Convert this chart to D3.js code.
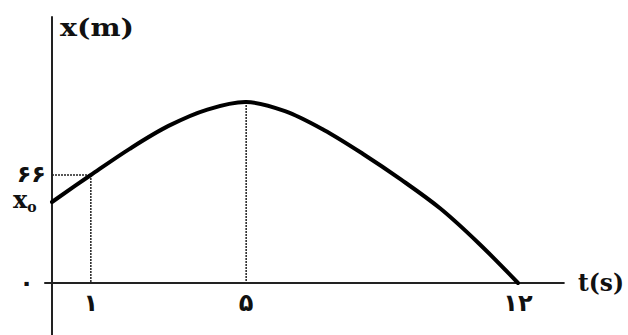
<!DOCTYPE html>
<html>
<head>
<meta charset="utf-8">
<script src="https://cdn.jsdelivr.net/npm/d3@7"></script>
<style>
  body { margin: 0; background: #fff; }
  svg { display: block; }
  .lbl { font-family: "DejaVu Serif", "Liberation Serif", serif; font-weight: bold; fill: #111; }
  .num { font-family: "DejaVu Sans", sans-serif; font-weight: bold; fill: #111; }
</style>
</head>
<body>
<div id="chart"></div>
<script>
// position-time curve
const times = [0, 1, 2, 3, 4, 5, 6, 7, 8, 9, 10, 11, 12];
const positions = [49.5, 66, 82, 96, 106, 110.6, 105, 93.5, 79, 63, 45.5, 24, 0];

// tick labels (Persian digits)
const tTicks = [1, 5, 12];
const tTickLabels = ["۱", "۵", "۱۲"];
const xTickValue = 66;
const xTickLabel = "۶۶";

// axis extents in data units
const tAxisEnd = 13.2;
const xAxisTop = 163;
const xAxisBottom = -32;

const width = 628, height = 335;

const svg = d3.select("#chart").append("svg")
    .attr("width", width)
    .attr("height", height);

const tScale = d3.scaleLinear().domain([0, 12]).range([52, 518]);
const xScale = d3.scaleLinear().domain([0, xTickValue]).range([283, 175]);

// axes
svg.append("line")
    .attr("x1", tScale(0)).attr("x2", tScale(0))
    .attr("y1", xScale(xAxisTop)).attr("y2", xScale(xAxisBottom))
    .attr("stroke", "#222").attr("stroke-width", 2);

svg.append("line")
    .attr("x1", tScale(-0.2)).attr("x2", tScale(tAxisEnd))
    .attr("y1", xScale(0)).attr("y2", xScale(0))
    .attr("stroke", "#222").attr("stroke-width", 2);

// guide lines
const peakIdx = positions.indexOf(d3.max(positions));
const guides = [
    { x1: tScale(0), y1: xScale(positions[1]), x2: tScale(times[1]), y2: xScale(positions[1]) },
    { x1: tScale(times[1]), y1: xScale(positions[1]), x2: tScale(times[1]), y2: xScale(0) },
    { x1: tScale(times[peakIdx]), y1: xScale(positions[peakIdx]), x2: tScale(times[peakIdx]), y2: xScale(0) }
];
svg.selectAll(".guide").data(guides).enter().append("line")
    .attr("class", "guide")
    .attr("x1", d => d.x1).attr("y1", d => d.y1)
    .attr("x2", d => d.x2).attr("y2", d => d.y2)
    .attr("stroke", "#222")
    .attr("stroke-width", 1.5)
    .attr("stroke-dasharray", "2,1");

// curve
const line = d3.line()
    .x((d, i) => tScale(times[i]))
    .y(d => xScale(d))
    .curve(d3.curveCatmullRom);

svg.append("path")
    .datum(positions)
    .attr("d", line)
    .attr("fill", "none")
    .attr("stroke", "#000")
    .attr("stroke-width", 4)
    .attr("stroke-linecap", "round");

// axis titles
svg.append("text")
    .attr("class", "lbl")
    .attr("x", 60).attr("y", 36)
    .attr("font-size", 24)
    .attr("textLength", 74)
    .attr("lengthAdjust", "spacingAndGlyphs")
    .text("x(m)");

svg.append("text")
    .attr("class", "lbl")
    .attr("x", 578).attr("y", xScale(0) + 8)
    .attr("font-size", 24)
    .attr("textLength", 46)
    .attr("lengthAdjust", "spacingAndGlyphs")
    .text("t(s)");

// t tick labels
svg.selectAll(".ttick").data(tTicks).enter().append("text")
    .attr("class", "num")
    .attr("x", d => tScale(d))
    .attr("y", xScale(0) + 28)
    .attr("text-anchor", "middle")
    .attr("font-size", 24)
    .text((d, i) => tTickLabels[i]);

// x tick labels
svg.append("text")
    .attr("class", "num")
    .attr("x", 46).attr("y", xScale(xTickValue) + 7)
    .attr("text-anchor", "end")
    .attr("font-size", 24)
    .text(xTickLabel);

svg.append("text")
    .attr("class", "num")
    .attr("x", 34).attr("y", xScale(0) + 8)
    .attr("text-anchor", "end")
    .attr("font-size", 24)
    .text("۰");

const x0 = svg.append("text")
    .attr("class", "lbl")
    .attr("x", 13).attr("y", xScale(positions[0]) + 6)
    .attr("font-size", 24);
x0.append("tspan").text("x");
x0.append("tspan").attr("font-size", 14).attr("dy", 4).text("o");
</script>
</body>
</html>
